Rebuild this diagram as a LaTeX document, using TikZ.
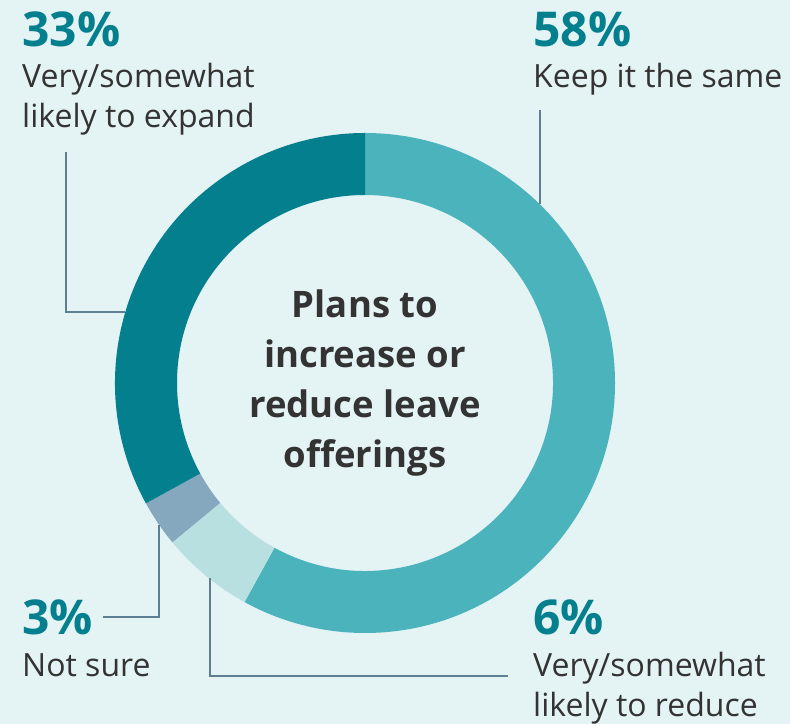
\documentclass[tikz,border=0pt]{standalone}
\usepackage{fontspec}
\setmainfont{Open Sans}
\usepackage{xcolor}
\usetikzlibrary{positioning,calc}
\definecolor{bgcol}{HTML}{E4F3F4}
\definecolor{expandcol}{HTML}{047F8E}
\definecolor{keepcol}{HTML}{4AB3BC}
\definecolor{reducecol}{HTML}{B9E0E1}
\definecolor{unsurecol}{HTML}{86A8BE}
\definecolor{txtcol}{HTML}{333333}
\definecolor{leadcol}{HTML}{5E7E94}

\begin{document}
\begin{tikzpicture}[x=1pt, y=1pt,
    pct/.style={anchor=base west, inner sep=0pt, font=\fontsize{48}{48}\selectfont\bfseries, text=expandcol},
    desc/.style={anchor=base west, inner sep=0pt, align=left, font=\fontsize{32}{40}\selectfont, text=txtcol},
    title/.style={align=center, inner sep=0pt, font=\fontsize{36.5}{50}\selectfont\bfseries, text=txtcol},
    leader/.style={draw=leadcol, line width=1.1pt}
]

% Background
\fill[bgcol] (0,0) rectangle (790,724);

% Ring
\coordinate (c) at (365,341);
\foreach \a/\b/\col in {90/-118.8/keepcol, -118.8/-140.4/reducecol, -140.4/-151.2/unsurecol, -151.2/-270/expandcol}
  \fill[\col] ($(c)+(\a:250)$) arc[start angle=\a, end angle=\b, radius=250]
    -- ($(c)+(\b:188)$) arc[start angle=\b, end angle=\a, radius=188] -- cycle;

% Centre
\node[title] (plans) at (c) {Plans to\\increase or\\reduce leave\\offerings};

% Labels (base = last line)
\node[pct] (p33) at (22,677) {33\%};
\node[desc] (d33) at (22,596) {Very/somewhat\\likely to expand};
\node[pct] (p58) at (533,677) {58\%};
\node[desc] (d58) at (533,636) {Keep it the same};
\node[pct] (p3) at (22,89) {3\%};
\node[desc] (d3) at (22,47) {Not sure};
\node[pct] (p6) at (533,89) {6\%};
\node[desc] (d6) at (533,7) {Very/somewhat\\likely to reduce};

% Leader lines
\coordinate (s33) at (66,572);
\coordinate (r33) at (125,412);
\coordinate (s58) at (540,614);
\coordinate (r58) at (540,520);
\coordinate (s3) at (103,107);
\coordinate (r3) at (159,199);
\coordinate (s6) at (508,48);
\coordinate (r6) at (210,146);
\draw[leader] (s33) |- (r33);
\draw[leader] (s58) -- (r58);
\draw[leader] (s3) -| (r3);
\draw[leader] (s6) -| (r6);

\end{tikzpicture}
\end{document}
